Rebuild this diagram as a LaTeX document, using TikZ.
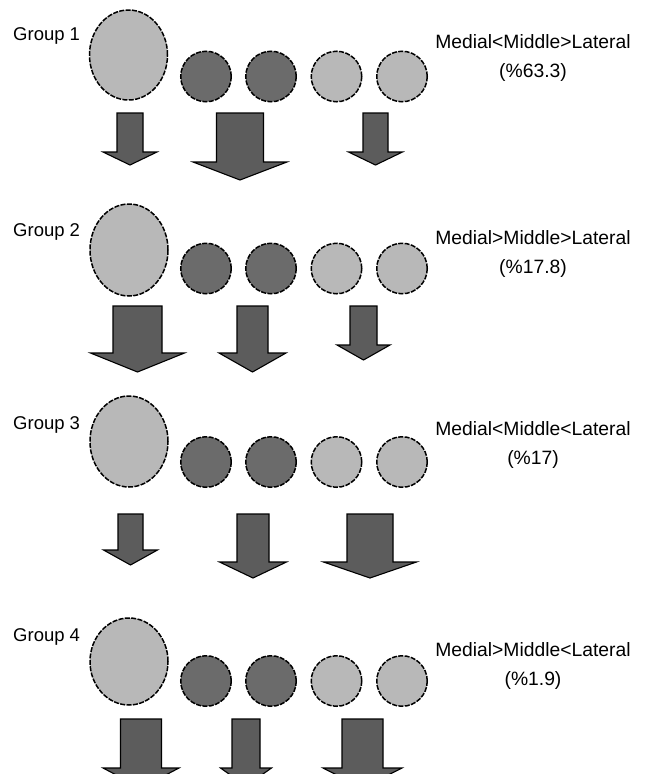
\documentclass[tikz,border=0pt]{standalone}
\usepackage{fontspec}
\setmainfont{Liberation Sans}
\usetikzlibrary{shapes.geometric}
\definecolor{lightg}{gray}{0.72}
\definecolor{darkg}{gray}{0.42}
\definecolor{arrg}{gray}{0.36}
\newcommand\blockarr[6]{%
  \draw[arrsty] ({#1-#3},#2) -- ({#1+#3},#2) -- ({#1+#3},#4) -- ({#1+#5},#4) -- (#1,#6)
    -- ({#1-#5},#4) -- ({#1-#3},#4) -- cycle;}
\begin{document}
\begin{tikzpicture}[x=1pt,y=-1pt,
  bigell/.style={ellipse, draw=black, fill=lightg, line width=1.5pt, dash pattern=on 5pt off 1.4pt, inner sep=0pt, minimum width=78pt},
  darkball/.style={circle, draw=black, fill=darkg, line width=1.5pt, dash pattern=on 5pt off 1.4pt, inner sep=0pt, minimum size=50.5pt},
  lightball/.style={circle, draw=black, fill=lightg, line width=1.5pt, dash pattern=on 5pt off 1.4pt, inner sep=0pt, minimum size=50.5pt},
  arrsty/.style={draw=black, fill=arrg, line width=1.1pt, line join=miter},
  grouplab/.style={anchor=west, inner sep=0pt, font=\fontsize{18.5}{22}\selectfont},
  ratio/.style={align=center, inner sep=0pt, font=\fontsize{19.3}{29}\selectfont}]
\useasboundingbox (0,0) rectangle (647,774);
\fill[white] (0,0) rectangle (647,774);
\clip (0,0) rectangle (647,774);

% Group 1
\node[grouplab] (g1) at (13,36) {Group 1};
\node[bigell, minimum height=90pt] (e1) at (128.5,55) {};
\node[darkball] (c11) at (206,76.5) {};
\node[darkball] (c12) at (271,76.5) {};
\node[lightball] (c13) at (336.5,76.5) {};
\node[lightball] (c14) at (402,76.5) {};
\node[ratio] (r1) at (533,58.5) {Medial<Middle>Lateral\\(\%63.3)};
\blockarr{130}{113}{13}{152}{27}{165}
\blockarr{240}{113}{23.5}{162}{47}{180}
\blockarr{375.5}{113}{12.5}{152}{27}{165}

% Group 2
\node[grouplab] (g2) at (13,232) {Group 2};
\node[bigell, minimum height=92pt] (e2) at (129,250) {};
\node[darkball] (c21) at (206,268.5) {};
\node[darkball] (c22) at (271,268.5) {};
\node[lightball] (c23) at (336.5,268.5) {};
\node[lightball] (c24) at (402,268.5) {};
\node[ratio] (r2) at (533,254) {Medial>Middle>Lateral\\(\%17.8)};
\blockarr{137.5}{306}{24.5}{353}{47}{372}
\blockarr{252.5}{306}{15.5}{353}{33.5}{372}
\blockarr{363.5}{306}{13.5}{345}{26.5}{360}

% Group 3
\node[grouplab] (g3) at (13,425) {Group 3};
\node[bigell, minimum height=91pt] (e3) at (129,441.5) {};
\node[darkball] (c31) at (206,462) {};
\node[darkball] (c32) at (271,462) {};
\node[lightball] (c33) at (336.5,462) {};
\node[lightball] (c34) at (402,462) {};
\node[ratio] (r3) at (533,445) {Medial<Middle<Lateral\\(\%17)};
\blockarr{130.5}{514}{12.5}{550}{27}{565}
\blockarr{253}{514}{16}{562}{33.5}{578}
\blockarr{370}{514}{23}{562}{46.5}{578}

% Group 4
\node[grouplab] (g4) at (13,637) {Group 4};
\node[bigell, minimum height=87pt] (e4) at (129,661.5) {};
\node[darkball] (c41) at (206,681) {};
\node[darkball] (c42) at (271,681) {};
\node[lightball] (c43) at (336.5,681) {};
\node[lightball] (c44) at (402,681) {};
\node[ratio] (r4) at (533,666) {Medial>Middle<Lateral\\(\%1.9)};
\blockarr{141}{719}{20.5}{768}{38}{788}
\blockarr{246}{719}{14}{768}{25.5}{786}
\blockarr{362.5}{719}{20.5}{768}{39.5}{788}
\end{tikzpicture}
\end{document}
